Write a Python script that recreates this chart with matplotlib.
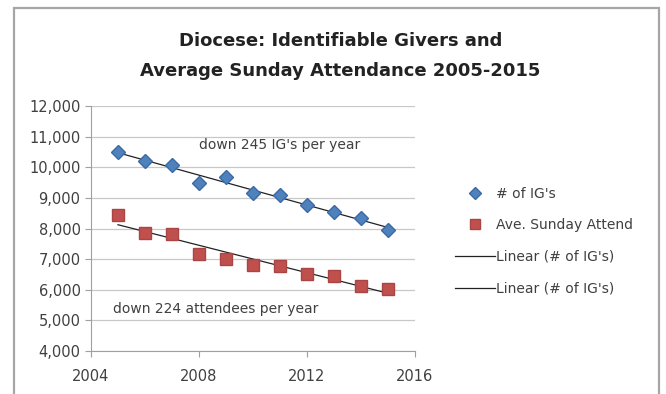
import matplotlib.pyplot as plt
from matplotlib.patches import Rectangle
import numpy as np

years = [2005, 2006, 2007, 2008, 2009, 2010, 2011, 2012, 2013, 2014, 2015]
igs = [10500, 10200, 10080, 9500, 9680, 9150, 9080, 8780, 8550, 8330, 7950]
attend = [8430, 7870, 7830, 7180, 7000, 6820, 6780, 6530, 6450, 6130, 6030]
yticks = [4000, 5000, 6000, 7000, 8000, 9000, 10000, 11000, 12000]
xticks = [2004, 2008, 2012, 2016]

plt.rcParams['font.family'] = ['DejaVu Sans']

fig = plt.figure(figsize=(6.66, 3.94), dpi=100)
# outer chart border
fig.patches.append(Rectangle((14 / 666, -0.05), 645 / 666, 1 - 8 / 394 + 0.05,
                             transform=fig.transFigure, fill=False,
                             edgecolor='#a6a6a6', linewidth=1.6))

ax = fig.add_axes([0.1366, 0.1091, 0.4865, 0.6218])

x = np.array(years)
fit_ig = np.polyfit(x, igs, 1)
fit_at = np.polyfit(x, attend, 1)

ax.plot(years, igs, linestyle='none', marker='D', markersize=7.5,
        color='#4f81bd', markeredgecolor='#3a6aa5', label="# of IG's", zorder=3)
ax.plot(years, attend, linestyle='none', marker='s', markersize=9,
        color='#c0504d', markeredgecolor='#a94543', label="Ave. Sunday Attend", zorder=3)
ax.plot(x, np.polyval(fit_ig, x), color='#222222', linewidth=0.9,
        label="Linear (# of IG's)", zorder=2)
ax.plot(x, np.polyval(fit_at, x), color='#222222', linewidth=0.9,
        label="Linear (# of IG's)", zorder=2)

ax.text(2008.0, 10720, "down 245 IG's per year", fontsize=10, color='#404040',
        va='center')
ax.text(2004.8, 5370, "down 224 attendees per year", fontsize=10, color='#404040',
        va='center')

ax.set_xlim(2004, 2016)
ax.set_ylim(4000, 12000)
ax.set_xticks(xticks)
ax.set_yticks(yticks)
ax.set_yticklabels([f"{v:,}" for v in yticks])
ax.yaxis.grid(True, color='#c8c8c8', linewidth=0.9)
ax.set_axisbelow(True)
for s in ['top', 'right']:
    ax.spines[s].set_visible(False)
for s in ['left', 'bottom']:
    ax.spines[s].set_color('#a0a0a0')
ax.tick_params(axis='both', labelsize=10.5, colors='#a0a0a0', labelcolor='#404040',
               length=4)
ax.tick_params(axis='x', direction='out', pad=9)

fig.text(0.511, 0.895, "Diocese: Identifiable Givers and", ha='center',
         va='center', fontsize=13, fontweight='bold', color='#222222')
fig.text(0.511, 0.82, "Average Sunday Attendance 2005-2015", ha='center',
         va='center', fontsize=13, fontweight='bold', color='#222222')

fig.legend(loc='upper left', bbox_to_anchor=(0.664, 0.558), frameon=False,
           fontsize=10, labelspacing=1.27, handlelength=2.9, handletextpad=0.1,
           markerscale=0.75, labelcolor='#404040')

fig.savefig('out.png', dpi=100)
